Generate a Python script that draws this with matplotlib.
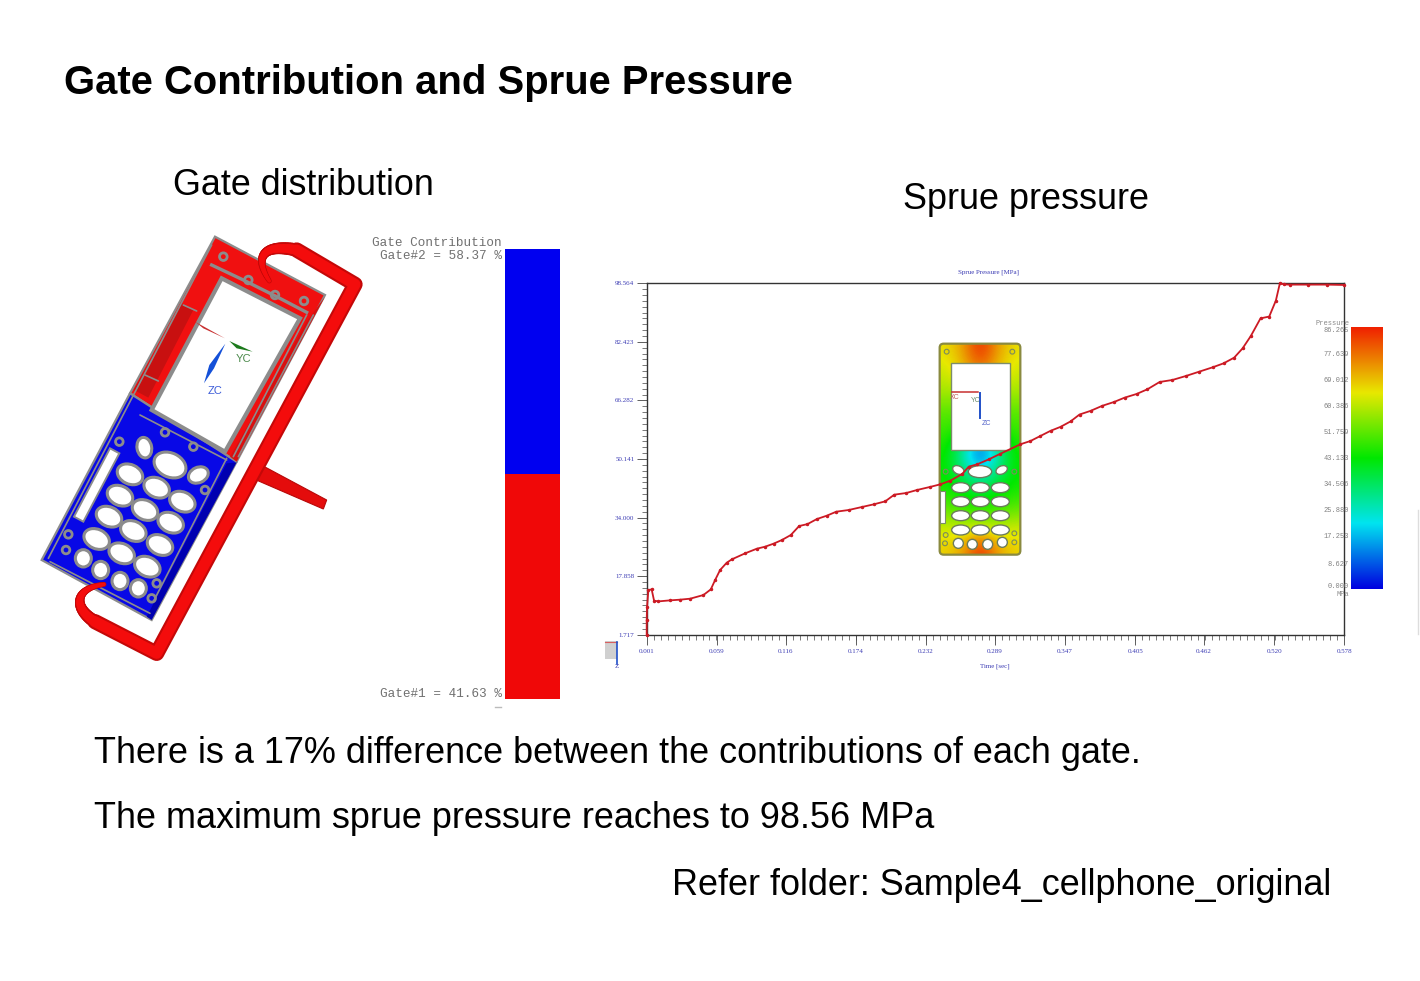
import numpy as np
import matplotlib
matplotlib.use("Agg")
import matplotlib.pyplot as plt
from matplotlib.colors import LinearSegmentedColormap
from matplotlib.patches import Ellipse, Polygon, Circle, Rectangle, FancyBboxPatch
from matplotlib.ticker import FixedLocator, FixedFormatter

# ---- Data ------------------------------------------------------------------

time_sec = [0.001, 0.001, 0.0013, 0.0024, 0.0051, 0.0071, 0.0107, 0.0203, 0.0286,
            0.0369, 0.0479, 0.054, 0.0576, 0.0617, 0.0672, 0.0714, 0.0824, 0.0921,
            0.099, 0.1059, 0.1128, 0.1202, 0.1271, 0.134, 0.1418, 0.15, 0.1578,
            0.168, 0.179, 0.1887, 0.1983, 0.2058, 0.2157, 0.2246, 0.2351, 0.2439,
            0.2522, 0.2619, 0.2674, 0.2743, 0.284, 0.2936, 0.3101, 0.3184, 0.3267,
            0.335, 0.3433, 0.3516, 0.359, 0.3681, 0.3778, 0.3875, 0.3963, 0.4062,
            0.4151, 0.4253, 0.4358, 0.4468, 0.4579, 0.469, 0.4781, 0.4869, 0.4938,
            0.5007, 0.5087, 0.5159, 0.5214, 0.5247, 0.5283, 0.5327, 0.5482, 0.5636,
            0.578]
pressure_mpa = [1.717, 5.76, 9.44, 14.03, 14.2, 11.09, 10.9, 11.18, 11.37,
                11.64, 12.65, 14.2, 16.79, 19.54, 21.56, 22.48, 24.14, 25.42,
                25.98, 26.8, 27.81, 29.19, 31.67, 32.2, 33.6, 34.52, 35.62,
                36.08, 36.91, 37.64, 38.47, 40.31, 40.77, 41.6, 42.42, 43.16,
                44.17, 46.0, 48.03, 48.67, 50.05, 51.6, 54.2, 55.1, 56.5,
                57.9, 59.0, 60.5, 62.4, 63.4, 64.8, 65.85, 67.05, 68.06,
                69.35, 71.37, 71.92, 73.0, 74.2, 75.4, 76.5, 78.07, 80.6,
                84.05, 88.9, 89.4, 93.8, 98.56, 98.27, 98.2, 98.2, 98.2,
                98.1]

x_ticks = [0.001, 0.059, 0.116, 0.174, 0.232, 0.289, 0.347, 0.405, 0.462, 0.520, 0.578]
y_ticks = [1.717, 17.858, 34.000, 50.141, 66.282, 82.423, 98.564]
scale_labels = ["86.265", "77.639", "69.012", "60.386", "51.759", "43.133",
                "34.506", "25.880", "17.253", "8.627", "0.000"]
scale_y_px = [331, 354, 380, 406, 432, 459, 485, 511, 537, 564, 586]
gate_labels = ["Gate#1 = 41.63 %", "Gate#2 = 58.37 %"]

# pressure levels on the small phone, rows top to bottom (0 = min, 1 = max)
phone_levels = [
    [0.76, 0.84, 1.00, 0.84, 0.76],
    [0.72, 0.80, 0.88, 0.80, 0.72],
    [0.68, 0.68, 0.70, 0.68, 0.68],
    [0.60, 0.60, 0.60, 0.60, 0.60],
    [0.56, 0.52, 0.42, 0.52, 0.56],
    [0.52, 0.30, 0.04, 0.30, 0.52],
    [0.50, 0.36, 0.22, 0.36, 0.50],
    [0.52, 0.48, 0.42, 0.48, 0.52],
    [0.60, 0.56, 0.54, 0.56, 0.60],
    [0.72, 0.70, 0.72, 0.70, 0.72],
    [0.78, 0.84, 1.00, 0.84, 0.78],
]

# left phone key holes, in zoomed crop coordinates
left_keys = [(343, 668, 44, 62, -10), (420, 720, 100, 72, 25), (505, 750, 62, 46, -25),
             (300, 748, 80, 58, 25), (380, 788, 80, 58, 25), (457, 830, 80, 58, 25),
             (270, 812, 80, 58, 25), (345, 855, 80, 58, 25), (422, 893, 80, 58, 25),
             (237, 875, 80, 58, 25), (310, 918, 80, 58, 25), (390, 960, 80, 58, 25),
             (200, 942, 80, 58, 25), (275, 985, 80, 58, 25), (352, 1025, 80, 58, 25),
             (160, 1000, 48, 52, 0), (212, 1035, 48, 52, 0), (270, 1068, 48, 52, 0),
             (325, 1090, 48, 52, 0)]
left_bosses = [(580, 95), (655, 165), (735, 210), (822, 228), (268, 650), (525, 795),
               (115, 928), (108, 975), (380, 1075), (365, 1120), (405, 622), (490, 665)]
right_keys = [(100, 405, 36, 24, 25), (165, 410, 70, 36, 0), (230, 405, 36, 24, -25),
              (107, 458, 54, 30, 0), (166, 458, 54, 30, 0), (226, 458, 54, 30, 0),
              (107, 500, 54, 30, 0), (166, 500, 54, 30, 0), (226, 500, 54, 30, 0),
              (107, 542, 54, 30, 0), (166, 542, 54, 30, 0), (226, 542, 54, 30, 0),
              (107, 585, 54, 30, 0), (166, 585, 54, 30, 0), (226, 585, 54, 30, 0),
              (100, 625, 30, 30, 0), (142, 628, 30, 30, 0), (188, 628, 30, 30, 0),
              (232, 622, 30, 30, 0)]

W, H = 1420, 981
BLUE_TXT = "#3c3cb4"
GREY_TXT = "#707070"


def z3(x, y):
    """Left phone crop coordinates to page pixels."""
    return 30 + x / 3, 225 + y / 3


def z5(x, y):
    """Small phone crop coordinates to page pixels."""
    return 925 + x / 3, 335 + y / 3


def px_axes(x0, y0, x1, y1, **kw):
    """Axes placed by page pixels (y measured from the top)."""
    return fig.add_axes([x0 / W, 1 - y1 / H, (x1 - x0) / W, (y1 - y0) / H], **kw)


def draw_hook(ctrl, w0, w1, zorder=6):
    """Tapered cubic bend of the runner, thin tip to full tube."""
    t = np.linspace(0, 1, 40)[:, None]
    c = np.array([z3(*p) for p in ctrl])
    pts = ((1 - t) ** 3) * c[0] + 3 * ((1 - t) ** 2) * t * c[1] + 3 * (1 - t) * t ** 2 * c[2] + t ** 3 * c[3]
    for colour, frac, z in [("#c40808", 1.0, zorder), ("#f40c0c", 0.72, zorder + 1)]:
        for i in range(len(pts) - 1):
            lw = (w0 + (w1 - w0) * i / (len(pts) - 2)) * frac
            page.plot(pts[i:i + 2, 0], pts[i:i + 2, 1], color=colour, lw=lw, zorder=z,
                      solid_capstyle="round")


fig = plt.figure(figsize=(W / 100, H / 100), dpi=100, facecolor="white")
plt.rcParams["font.family"] = "Liberation Sans"

page = fig.add_axes([0, 0, 1, 1], zorder=0)
page.set_xlim(0, W)
page.set_ylim(H, 0)
page.axis("off")

# ---- Slide text ------------------------------------------------------------

page.text(64, 94, "Gate Contribution and Sprue Pressure", fontsize=28.85,
          fontweight="bold", color="black", va="baseline")
page.text(173, 195, "Gate distribution", fontsize=25.8, va="baseline")
page.text(903, 209, "Sprue pressure", fontsize=25.9, va="baseline")
page.text(94, 763, "There is a 17% difference between the contributions of each gate.",
          fontsize=25.95, va="baseline")
page.text(94, 828, "The maximum sprue pressure reaches to 98.56 MPa", fontsize=25.9, va="baseline")
page.text(672, 895, "Refer folder: Sample4_cellphone_original", fontsize=25.9, va="baseline")

# ---- Left phone ------------------------------------------------------------

GREY = "#8c8c8c"
red_body = [(555, 35), (885, 210), (620, 710), (300, 505)]
blue_body = [(300, 505), (620, 710), (365, 1185), (35, 1005)]
page.add_patch(Polygon([z3(*p) for p in red_body], fc="#f01010", ec=GREY, lw=1.6, zorder=2))
page.add_patch(Polygon([z3(*p) for p in blue_body], fc="#0808e6", ec=GREY, lw=1.6, zorder=2))
page.add_patch(Polygon([z3(*p) for p in [(455, 235), (490, 255), (355, 518), (312, 495)]],
                       fc="#c81010", ec="none", zorder=3))
page.add_patch(Polygon([z3(*p) for p in [(830, 290), (885, 215), (620, 710), (600, 695)]],
                       fc="#d81010", ec="none", zorder=3))
page.add_patch(Polygon([z3(*p) for p in [(590, 715), (620, 712), (365, 1185), (350, 1175)]],
                       fc="#0000b0", ec="none", zorder=3))
page.add_patch(Polygon([z3(*p) for p in [(575, 160), (810, 280), (585, 680), (365, 555)]],
                       fc="white", ec=GREY, lw=3.0, zorder=4))
for a, b in [((545, 60), (55, 1000)), ((330, 570), (590, 705)), ((60, 1010), (360, 1165)),
             ((830, 270), (610, 695)), ((850, 270), (625, 695)), ((460, 240), (500, 258)),
             ((345, 450), (385, 468)), ((590, 700), (370, 1130))]:
    page.plot(*zip(z3(*a), z3(*b)), color=GREY, lw=1.2, zorder=4, solid_capstyle="round")
page.plot(*zip(*[z3(*p) for p in [(545, 120), (640, 165), (740, 215), (830, 262)]]),
          color=GREY, lw=2.4, zorder=4)
for bx, by in left_bosses:
    page.add_patch(Circle(z3(bx, by), 3.8, fc="none", ec=GREY, lw=2.0, zorder=5))
for kx, ky, kw_, kh, ang in left_keys:
    page.add_patch(Ellipse(z3(kx, ky), kw_ / 3, kh / 3, angle=ang, fc="white",
                           ec=GREY, lw=2.2, zorder=5))
page.add_patch(Polygon([z3(*p) for p in [(240, 670), (268, 685), (160, 890), (132, 875)]],
                       fc="white", ec=GREY, lw=1.4, zorder=5))

# runner system
runner = [(800, 75), (975, 178), (380, 1285), (195, 1190)]
rx, ry = zip(*[z3(*p) for p in runner])
for colour, width, z in [("#c40808", 11.0, 6), ("#f40c0c", 8.0, 7)]:
    page.plot(rx, ry, color=colour, lw=width, zorder=z, solid_joinstyle="round",
              solid_capstyle="round")
draw_hook([(718, 168), (670, 95), (700, 55), (800, 75)], 3.5, 9.5)
draw_hook([(222, 1078), (130, 1090), (130, 1150), (195, 1190)], 3.5, 9.5)
page.add_patch(Polygon([z3(*p) for p in [(690, 718), (890, 825), (880, 852), (672, 762)]],
                       fc="#e40c0c", ec="#b80808", lw=0.8, zorder=5.5))

# triad
page.add_patch(Polygon([z3(*p) for p in [(495, 290), (585, 340), (520, 310)]], fc="#c83030", ec="none", zorder=8))
page.add_patch(Polygon([z3(*p) for p in [(598, 348), (668, 380), (620, 370)]], fc="#1c7a1c", ec="none", zorder=8))
page.add_patch(Polygon([z3(*p) for p in [(586, 356), (538, 420), (522, 475), (552, 430)]], fc="#1450d8", ec="none", zorder=8))
page.text(*z3(642, 403), "YC", color="#4c8a4c", fontsize=8, ha="center", va="center", zorder=8)
page.text(*z3(555, 498), "ZC", color="#3c5cd8", fontsize=8, ha="center", va="center", zorder=8)

# ---- Gate legend -----------------------------------------------------------

page.text(502, 243, "Gate Contribution", family="Liberation Mono", fontsize=9.1,
          color=GREY_TXT, ha="right", va="center")
page.text(502, 256, gate_labels[1], family="Liberation Mono", fontsize=9.1,
          color=GREY_TXT, ha="right", va="center")
page.text(502, 694, gate_labels[0], family="Liberation Mono", fontsize=9.1,
          color=GREY_TXT, ha="right", va="center")
page.plot([495, 501], [707, 707], color="#bbbbbb", lw=1)

gate_ax = px_axes(505, 249, 560, 699)
gate_ax.bar([0, 0], [1, 1], bottom=[0, 1], width=1, color=["#f00808", "#0000f0"])
gate_ax.set_xlim(-0.5, 0.5)
gate_ax.set_ylim(0, 2)
gate_ax.axis("off")

# ---- Small phone behind the curve -------------------------------------------

pressure_cmap = LinearSegmentedColormap.from_list(
    "pressure", [(0, "#0000e0"), (0.25, "#00e4f0"), (0.5, "#00e800"),
                 (0.75, "#e8e800"), (1, "#f02000")])

x0, y0 = z5(38, 20)
x1, y1 = z5(292, 665)
phone_ax = px_axes(x0, y0, x1, y1, zorder=1)
phone_ax.set_xlim(x0, x1)
phone_ax.set_ylim(y1, y0)
phone_ax.axis("off")
field = phone_ax.imshow(phone_levels, cmap=pressure_cmap, vmin=0, vmax=1, aspect="auto",
                        interpolation="bicubic", extent=(x0, x1, y1, y0))
outline = FancyBboxPatch((x0 + 2, y0 + 2), x1 - x0 - 4, y1 - y0 - 4,
                         boxstyle="round,pad=0,rounding_size=4", fc="none",
                         ec="#8a8a40", lw=1.6, zorder=3)
phone_ax.add_patch(outline)
field.set_clip_path(outline)
wx0, wy0 = z5(78, 85)
wx1, wy1 = z5(255, 345)
phone_ax.add_patch(Rectangle((wx0, wy0), wx1 - wx0, wy1 - wy0, fc="white", ec="#7c8c6c", lw=1.0, zorder=4))
sx0, sy0 = z5(45, 468)
sx1, sy1 = z5(60, 565)
phone_ax.add_patch(Rectangle((sx0, sy0), sx1 - sx0, sy1 - sy0, fc="white", ec="#7c8c6c", lw=0.8, zorder=4))
for kx, ky, kw_, kh, ang in right_keys:
    phone_ax.add_patch(Ellipse(z5(kx, ky), kw_ / 3, kh / 3, angle=ang, fc="white",
                               ec="#6c7c5c", lw=1.0, zorder=4))
for bx, by in [(65, 50), (262, 50), (62, 600), (268, 595), (60, 625), (268, 622), (62, 410), (268, 410)]:
    phone_ax.add_patch(Circle(z5(bx, by), 2.4, fc="none", ec="#7c8c5c", lw=0.8, zorder=4))
phone_ax.plot(*zip(z5(80, 170), z5(160, 170)), color="#c83030", lw=1.1, zorder=5)
phone_ax.plot(*zip(z5(166, 175), z5(166, 250)), color="#2050c8", lw=1.4, zorder=5)
phone_ax.text(*z5(90, 187), "XC", color="#c06060", fontsize=5, ha="center", va="center", zorder=5)
phone_ax.text(*z5(152, 197), "YC", color="#6c8c6c", fontsize=5, ha="center", va="center", zorder=5)
phone_ax.text(*z5(185, 266), "ZC", color="#5060c8", fontsize=5, ha="center", va="center", zorder=5)

# ---- Sprue pressure curve ----------------------------------------------------

ax = px_axes(646.7, 283.3, 1344.3, 634.7, zorder=2)
ax.patch.set_alpha(0)
ax.plot(time_sec, pressure_mpa, color="#cc1a24", lw=1.3, marker="o", ms=1.5, zorder=3, clip_on=False)
ax.set_xlim(x_ticks[0], x_ticks[-1])
ax.set_ylim(y_ticks[0], y_ticks[-1])
ax.xaxis.set_major_locator(FixedLocator(x_ticks))
ax.xaxis.set_major_formatter(FixedFormatter([f"{v:.3f}" for v in x_ticks]))
ax.yaxis.set_major_locator(FixedLocator(y_ticks))
ax.yaxis.set_major_formatter(FixedFormatter([f"{v:.3f}" for v in y_ticks]))
ax.xaxis.set_minor_locator(FixedLocator(np.linspace(x_ticks[0], x_ticks[-1], 101)))
ax.yaxis.set_minor_locator(FixedLocator(np.linspace(y_ticks[0], y_ticks[-1], 61)))
ax.tick_params(which="major", length=7, width=0.6, color="#444444", labelsize=5,
               labelcolor=BLUE_TXT, labelfontfamily="Liberation Serif")
ax.tick_params(axis="y", which="major", pad=1.8)
ax.tick_params(axis="x", which="major", pad=3)
ax.tick_params(which="minor", length=3.6, width=0.5, color="#444444")
for side in ax.spines.values():
    side.set_linewidth(1.0)
    side.set_color("#333333")
page.text(988, 272, "Sprue Pressure [MPa]", family="Liberation Serif", fontsize=5,
          color=BLUE_TXT, ha="center", va="center")
page.text(995, 666, "Time [sec]", family="Liberation Serif", fontsize=5,
          color=BLUE_TXT, ha="center", va="center")

# ---- Pressure scale ----------------------------------------------------------

cbar_ax = px_axes(1351, 327.3, 1383, 589.3)
cbar_ax.imshow(np.linspace(1, 0, 256).reshape(-1, 1), cmap=pressure_cmap, aspect="auto")
cbar_ax.axis("off")
top = fig.add_axes([0, 0, 1, 1], zorder=3)
top.set_xlim(0, W)
top.set_ylim(H, 0)
top.axis("off")
top.text(1349, 323.5, "Pressure", family="Liberation Mono", fontsize=5, color="#888888", ha="right", va="center")
for lab, ypx in zip(scale_labels, scale_y_px):
    top.text(1349, ypx, lab, family="Liberation Mono", fontsize=5, color="#808080", ha="right", va="center")
top.text(1349, 594, "MPa", family="Liberation Mono", fontsize=5, color="#888888", ha="right", va="center")

# small view triad and stray edge line
page.add_patch(Rectangle((605, 641), 12, 18, fc="#d0d0d0", ec="none"))
page.plot([605, 617], [641.5, 641.5], color="#d86060", lw=0.8)
page.plot([616.5, 616.5], [642, 664], color="#2050c8", lw=1.2)
page.text(616.5, 667, "Z", family="Liberation Serif", fontsize=5, color=BLUE_TXT, ha="center", va="center")
page.plot([1417.5, 1417.5], [510, 634], color="#dddddd", lw=1)

fig.savefig("out.png", dpi=100, facecolor="white")
